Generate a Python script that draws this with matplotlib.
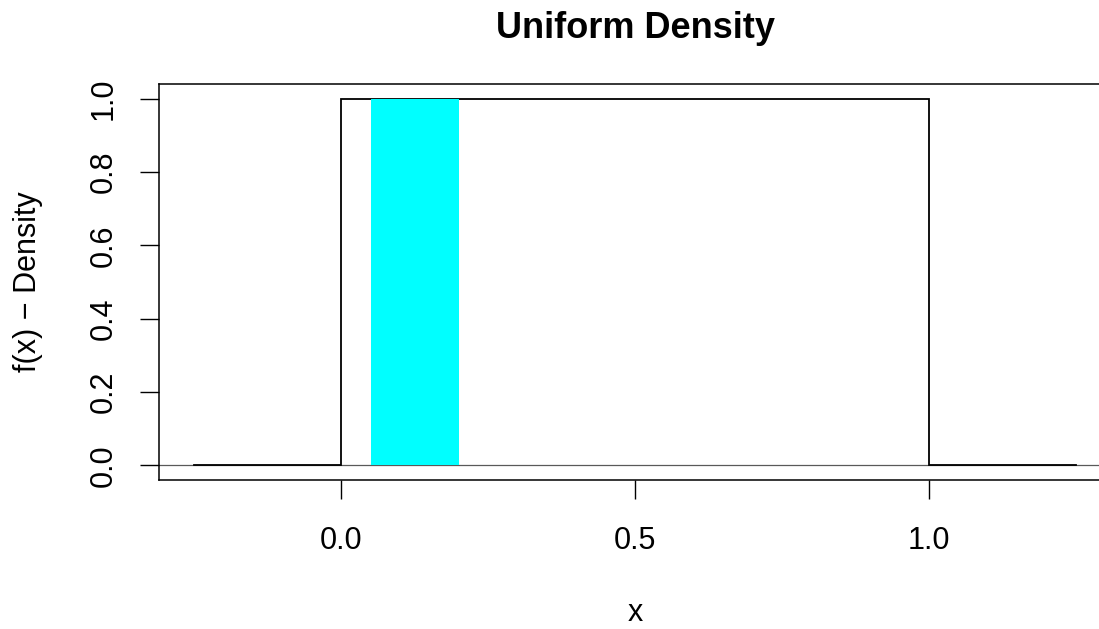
import matplotlib
matplotlib.use("Agg")
import matplotlib.pyplot as plt

# Data
density_x = [-0.25, 0.0, 0.0, 1.0, 1.0, 1.25]
density_y = [0.0, 0.0, 1.0, 1.0, 0.0, 0.0]
shade_a, shade_b = 0.05, 0.20
shade_height = 1.0
x_ticks = [0.0, 0.5, 1.0]
x_tick_labels = ["0.0", "0.5", "1.0"]
y_ticks = [0.0, 0.2, 0.4, 0.6, 0.8, 1.0]
y_tick_labels = ["0.0", "0.2", "0.4", "0.6", "0.8", "1.0"]
title = "Uniform Density"
xlabel = "x"
ylabel = "f(x) \u2212 Density"

plt.rcParams['font.family'] = ['Liberation Sans', 'DejaVu Sans']

W, H = 1099, 629
fig = plt.figure(figsize=(W / 100, H / 100), dpi=100)
left, right, top, bottom = 159, 1111, 84, 480
ax = fig.add_axes([left / W, 1 - bottom / H, (right - left) / W, (bottom - top) / H])

xr = 1.5
ax.set_xlim(-0.25 - 0.04 * xr, 1.25 + 0.04 * xr)
ax.set_ylim(-0.04, 1.04)

ax.axhline(0, color='0.35', lw=0.9, zorder=1)
ax.plot(density_x, density_y, color='black', lw=1.3, zorder=2, solid_joinstyle='miter')
ax.fill_between([shade_a, shade_b], [0, 0], [shade_height, shade_height],
                color='#00FFFF', lw=0, zorder=3)

for s in ax.spines.values():
    s.set_linewidth(1.1)
    s.set_color('black')

ax.set_xticks(x_ticks)
ax.set_xticklabels(x_tick_labels)
ax.set_yticks(y_ticks)
ax.set_yticklabels(y_tick_labels, rotation=90, va='center')
ax.tick_params(axis='both', direction='out', length=14, width=1.0, labelsize=22, pad=19)
ax.tick_params(axis='y', pad=15)

fig.text(635 / W, 1 - 38 / H, title, ha='center', va='baseline', fontsize=26, fontweight='bold')
fig.text(635 / W, 1 - 621 / H, xlabel, ha='center', va='baseline', fontsize=22)
fig.text(28 / W, 1 - 282 / H, ylabel, ha='center', va='center', fontsize=22, rotation=90)

fig.savefig("out.png", dpi=100)
